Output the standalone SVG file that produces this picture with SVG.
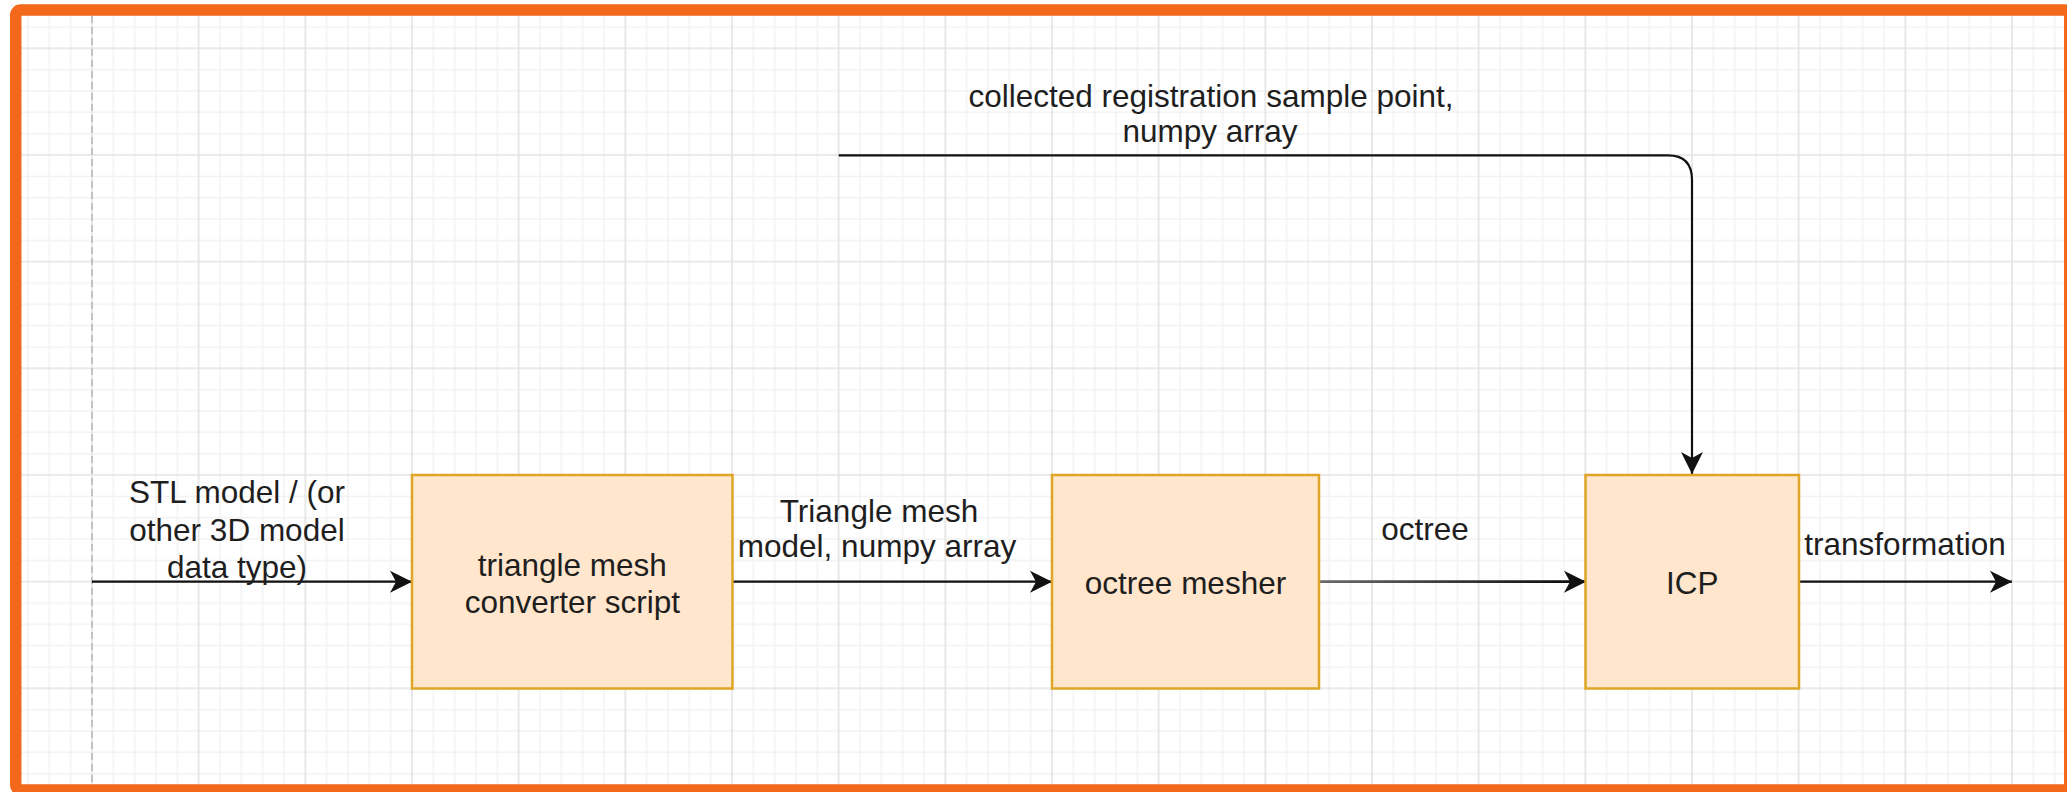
<svg xmlns="http://www.w3.org/2000/svg" width="2067" height="792" viewBox="0 0 2067 792">
<style>
.t{font-family:"Liberation Sans",Arial,Helvetica,sans-serif;font-size:31.5px;fill:#1e1e1e;text-anchor:middle}
.box{fill:#ffe6cc;stroke:#dea526;stroke-width:2.5}
.edge{fill:none;stroke:#111;stroke-width:2.2}
.minor{stroke:#f2f2f2;stroke-width:1.5}
.major{stroke:#e3e3e3;stroke-width:1.6}
</style>
<defs>
<pattern id="grid" patternUnits="userSpaceOnUse" x="82" y="38.33" width="106.667" height="106.667">
<path class="minor" d="M31.33,0V106.667M52.67,0V106.667M74,0V106.667M95.33,0V106.667M0,31.33H106.667M0,52.67H106.667M0,74H106.667M0,95.33H106.667"/>
<path class="major" d="M10,0V106.667M0,10H106.667"/>
</pattern>
<marker id="arr" markerUnits="userSpaceOnUse" viewBox="0 0 24 24" markerWidth="24" markerHeight="24" refX="23" refY="12" orient="auto">
<path d="M1,1 L23,12 L1,23 L7,12 Z" fill="#111"/>
</marker>
<linearGradient id="octg" gradientUnits="userSpaceOnUse" x1="1319" y1="0" x2="1560" y2="0">
<stop offset="0" stop-color="#6a6a6a"/>
<stop offset="1" stop-color="#111"/>
</linearGradient>
</defs>
<rect x="0" y="0" width="2067" height="792" fill="#fff"/>
<rect x="10" y="4" width="2070" height="800" fill="url(#grid)"/>
<line x1="92" y1="16" x2="92" y2="784" stroke="#b9b9b9" stroke-width="1.6" stroke-dasharray="7 4"/>
<rect id="frame" x="15.75" y="10" width="2054" height="780" rx="5" fill="none" stroke="#f4681c" stroke-width="11.5"/>

<g id="connectors">
<path class="edge" d="M92,581.7 H412" marker-end="url(#arr)"/>
<path class="edge" d="M733,581.7 H1052" marker-end="url(#arr)"/>
<path d="M1319,581.7 H1586" fill="none" stroke="url(#octg)" stroke-width="2.8" marker-end="url(#arr)"/>
<path class="edge" d="M1799,581.7 H2012" marker-end="url(#arr)"/>
<path class="edge" d="M838.7,155.3 H1668 Q1692,155.3 1692,180 V474" marker-end="url(#arr)"/>
<text class="t" x="237" y="503.3">STL model / (or</text>
<text class="t" x="237" y="540.5">other 3D model</text>
<text class="t" x="237" y="577.5">data type)</text>
<text class="t" x="879" y="521.7">Triangle mesh</text>
<text class="t" x="877" y="556.7">model, numpy array</text>
<text class="t" x="1425" y="540">octree</text>
<text class="t" x="1905" y="555">transformation</text>
<text class="t" x="1211" y="106.7">collected registration sample point,</text>
<text class="t" x="1210" y="141.7">numpy array</text>
</g>

<g id="node-converter">
<rect class="box" x="412" y="475" width="320.5" height="213.5"/>
<text class="t" x="572.3" y="575.7">triangle mesh</text>
<text class="t" x="572.3" y="612.7">converter script</text>
</g>
<g id="node-mesher">
<rect class="box" x="1052" y="475" width="267" height="213.5"/>
<text class="t" x="1185.5" y="594">octree mesher</text>
</g>
<g id="node-icp">
<rect class="box" x="1585.5" y="475" width="213.5" height="213.5"/>
<text class="t" x="1692.3" y="594">ICP</text>
</g>
</svg>
